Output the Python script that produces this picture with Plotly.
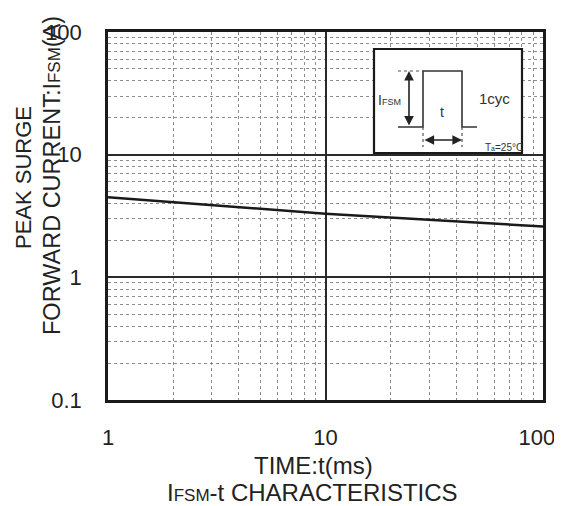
import plotly.graph_objects as go

# Data
time_ms = [1, 10, 100]
ifsm_a = [4.5, 3.3, 2.6]
x_major = [1, 10, 100]
x_major_labels = ["1", "10", "100\u00a0\u00a0"]
y_major = [0.1, 1, 10, 100]
y_major_labels = ["0.1", "1", "10", "100"]
x_minor = [m * d for d in (1, 10) for m in range(2, 10)]
y_minor = [m * d for d in (0.1, 1, 10) for m in range(2, 10)]

# page offset (body margin) compensation
O = 8
W, H = 562 - O, 506 - O
L, R, T, B = 108, 543, 32, 400  # plot area in screen pixels


def px(x):
    return (x - L) / (R - L)


def py(y):
    return (B - y) / (B - T)


FONT = "Liberation Sans, Arial, sans-serif"
TXT = "#222222"

fig = go.Figure()
fig.add_trace(go.Scatter(x=time_ms, y=ifsm_a, mode="lines",
                         line=dict(color="#1a1a1a", width=2.5),
                         showlegend=False, hoverinfo="skip"))

axis_common = dict(
    type="log", showline=True, linecolor="#1a1a1a", linewidth=2.5, mirror=True,
    showgrid=True, gridcolor="#2a2a2a", gridwidth=1.6, zeroline=False,
    ticks="", tickfont=dict(family=FONT, size=22, color=TXT), automargin=False,
    ticklabeloverflow="allow",
)

fig.update_xaxes(
    **axis_common, range=[0, 2], tickmode="array", tickvals=x_major,
    ticktext=x_major_labels, ticklabelstandoff=16,
    minor=dict(tickmode="array", tickvals=x_minor, showgrid=True,
               gridcolor="#8c8c8c", gridwidth=1, griddash="dot", ticks=""),
)
fig.update_yaxes(
    **axis_common, range=[-1, 2], tickmode="array", tickvals=y_major,
    ticktext=y_major_labels, ticklabelstandoff=19,
    minor=dict(tickmode="array", tickvals=y_minor, showgrid=True,
               gridcolor="#8c8c8c", gridwidth=1, griddash="dot", ticks=""),
)

shapes = []
shapes.append(dict(type="rect", xref="paper", yref="paper",
                   x0=px(374), x1=px(522), y0=py(153), y1=py(49),
                   line=dict(color="#1a1a1a", width=2.2), fillcolor="white", layer="above"))
path = "M{},{} L{},{} L{},{} L{},{} L{},{} L{},{}".format(
    px(398), py(127), px(423), py(127), px(423), py(71),
    px(462), py(71), px(462), py(127), px(477), py(127))
shapes.append(dict(type="path", xref="paper", yref="paper", path=path,
                   line=dict(color="#333333", width=1.6), layer="above"))
shapes.append(dict(type="line", xref="paper", yref="paper",
                   x0=px(398), x1=px(423), y0=py(71), y1=py(71),
                   line=dict(color="#555555", width=1.2, dash="dot"), layer="above"))
for xx in (423, 462):
    shapes.append(dict(type="line", xref="paper", yref="paper",
                       x0=px(xx), x1=px(xx), y0=py(127), y1=py(147),
                       line=dict(color="#555555", width=1.2, dash="dot"), layer="above"))


def note(x, y, text, font, **kw):
    d = dict(xref="paper", yref="paper", x=px(x), y=py(y), text=text,
             showarrow=False, font=font, xanchor="center", yanchor="middle")
    d.update(kw)
    return d


annotations = []
annotations.append(dict(xref="paper", yref="paper", x=px(409), y=py(71),
                        ax=0, ay=56, showarrow=True, arrowhead=2, arrowsize=1.2,
                        arrowwidth=1.6, arrowcolor="#222", arrowside="end+start", text=""))
annotations.append(dict(xref="paper", yref="paper", x=px(462), y=py(140),
                        ax=-39, ay=0, showarrow=True, arrowhead=2, arrowsize=1.2,
                        arrowwidth=1.6, arrowcolor="#222", arrowside="end+start", text=""))
ins = dict(family=FONT, size=14, color="#333333")
annotations.append(note(389, 100, "I<span style='font-size:9px'>FSM</span>", ins))
annotations.append(note(494, 99, "1cyc", dict(family=FONT, size=15, color="#333333")))
annotations.append(note(442, 112, "t", ins))
annotations.append(note(504, 147, "T<span style='font-size:7px'>a</span>=25°C",
                        dict(family=FONT, size=10, color="#333333")))

ytf = dict(family=FONT, size=22, color=TXT)
ytf2 = dict(family=FONT, size=23.5, color=TXT)
xtf = dict(family=FONT, size=24, color=TXT)
annotations.append(note(23, 178, "PEAK SURGE", ytf, textangle=-90))
annotations.append(note(52, 176, "FORWARD CURRENT:I<span style='font-size:17px'>FSM</span>(A)",
                        ytf2, textangle=-90))
annotations.append(note(313, 465, "TIME:t(ms)", xtf))
annotations.append(note(312, 492, "I<span style='font-size:17px'>FSM</span>-t CHARACTERISTICS", xtf))

fig.update_layout(
    width=W, height=H,
    margin=dict(l=L - O, r=W - (R - O), t=T - O, b=H - (B - O)),
    paper_bgcolor="white", plot_bgcolor="white",
    shapes=shapes, annotations=annotations, showlegend=False,
)

fig.write_html("out.html")
